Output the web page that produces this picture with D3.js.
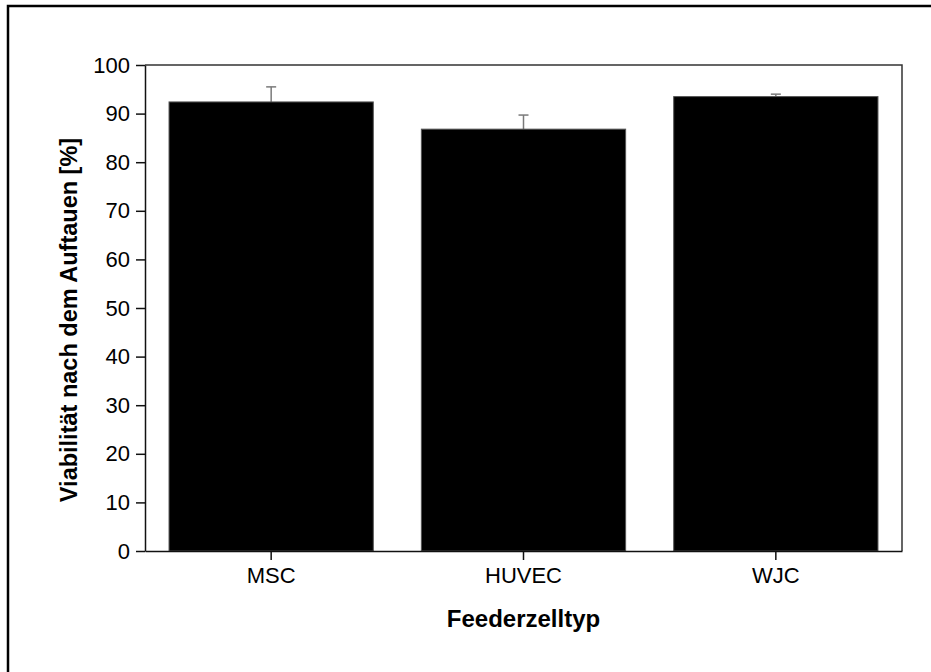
<!DOCTYPE html>
<html>
<head>
<meta charset="utf-8">
<script src="https://cdn.jsdelivr.net/npm/d3@7"></script>
<style>
  html, body { margin: 0; padding: 0; background: #fff; }
  svg { display: block; font-family: Arial, "Liberation Sans", sans-serif; }
</style>
</head>
<body>
<svg id="chart" width="931" height="672"></svg>
<script>
// Viability after thawing, per feeder cell type (mean ± SD, %)
const categories = ["MSC", "HUVEC", "WJC"];
const viability = [92.4, 86.8, 93.5];
const viabilitySD = [3.1, 2.9, 0.5];
const yTicks = [0, 10, 20, 30, 40, 50, 60, 70, 80, 90, 100];

const xTitle = "Feederzelltyp";
const yTitle = "Viabilität nach dem Auftauen [%]";

const svg = d3.select("#chart");
const W = 931, H = 672;
const plot = { left: 145, top: 65, right: 902, bottom: 551 };

// Outer frame (left and top edges visible)
svg.append("path")
  .attr("d", `M8,${H + 5} L8,6 L${W + 5},6`)
  .attr("fill", "none")
  .attr("stroke", "#000")
  .attr("stroke-width", 2.5);

const x = d3.scaleBand()
  .domain(categories)
  .range([plot.left, plot.right])
  .paddingInner(48 / 252)
  .paddingOuter(24 / 252);

const y = d3.scaleLinear()
  .domain([0, 100])
  .range([plot.bottom, plot.top]);

const data = categories.map((c, i) => ({ cat: c, v: viability[i], sd: viabilitySD[i] }));

// Error bars (upper half, drawn behind the bars)
const err = svg.append("g").attr("stroke", "#7a7a7a").attr("stroke-width", 1.5);
data.forEach(d => {
  const cx = x(d.cat) + x.bandwidth() / 2;
  err.append("line")
    .attr("x1", cx).attr("x2", cx)
    .attr("y1", y(d.v)).attr("y2", y(d.v + d.sd));
  err.append("line")
    .attr("x1", cx - 5).attr("x2", cx + 5)
    .attr("y1", y(d.v + d.sd)).attr("y2", y(d.v + d.sd));
});

// Bars
svg.append("g")
  .selectAll("rect")
  .data(data)
  .join("rect")
  .attr("x", d => x(d.cat))
  .attr("y", d => y(d.v))
  .attr("width", x.bandwidth())
  .attr("height", d => y(0) - y(d.v))
  .attr("fill", "#000")
  .attr("stroke", "#555")
  .attr("stroke-width", 1);

// Plot frame (top and right)
svg.append("path")
  .attr("d", `M${plot.left},${plot.top} L${plot.right},${plot.top} L${plot.right},${plot.bottom}`)
  .attr("fill", "none")
  .attr("stroke", "#333")
  .attr("stroke-width", 1.5);

// Y axis
const yAxis = svg.append("g")
  .attr("transform", `translate(${plot.left},0)`)
  .call(d3.axisLeft(y).tickValues(yTicks).tickSize(9).tickPadding(6).tickSizeOuter(0));
yAxis.select(".domain").attr("stroke", "#111").attr("stroke-width", 1.5);
yAxis.selectAll(".tick line").attr("stroke", "#111").attr("stroke-width", 1.5);
yAxis.selectAll(".tick text")
  .attr("fill", "#000")
  .style("font-size", "22px");

// X axis
const xAxis = svg.append("g")
  .attr("transform", `translate(0,${plot.bottom})`)
  .call(d3.axisBottom(x).tickSize(9).tickPadding(7).tickSizeOuter(0));
xAxis.select(".domain").attr("stroke", "#111").attr("stroke-width", 1.5);
xAxis.selectAll(".tick line").attr("stroke", "#111").attr("stroke-width", 1.5);
xAxis.selectAll(".tick text")
  .attr("fill", "#000")
  .style("font-size", "22px");

// Axis titles
svg.append("text")
  .attr("x", (plot.left + plot.right) / 2)
  .attr("y", 627)
  .attr("text-anchor", "middle")
  .style("font-size", "24px")
  .style("font-weight", "bold")
  .text(xTitle);

svg.append("text")
  .attr("transform", `translate(77,${(plot.top + plot.bottom) / 2 + 12}) rotate(-90)`)
  .attr("text-anchor", "middle")
  .style("font-size", "23.5px")
  .style("font-weight", "bold")
  .text(yTitle);
</script>
</body>
</html>
